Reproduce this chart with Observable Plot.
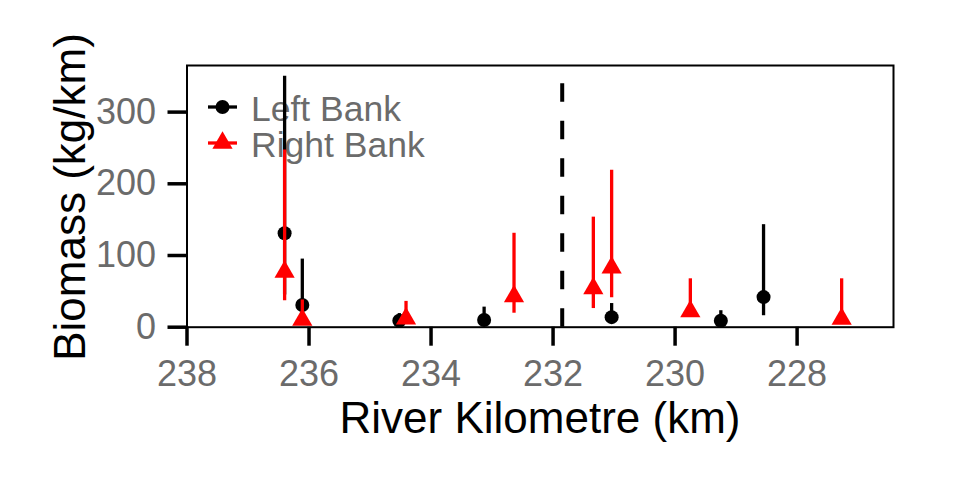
<!DOCTYPE html>
<html>
<head>
<meta charset="utf-8">
<script src="https://cdn.jsdelivr.net/npm/d3@7"></script>
<script src="https://cdn.jsdelivr.net/npm/@observablehq/plot@0.6"></script>
<style>
  html, body { margin: 0; padding: 0; background: white; }
  #wrap { position: relative; width: 960px; height: 480px; font-family: "Liberation Sans", Arial, sans-serif; }
  #wrap svg { position: absolute; left: 0; top: 0; }
  .title { position: absolute; color: black; font-size: 44px; white-space: nowrap; }
</style>
</head>
<body>
<div id="wrap"></div>
<script>
// ---- data ----
const leftKm   = [236.40, 236.11, 234.52, 233.13, 231.04, 229.25, 228.55];
const leftMean = [131, 31, 9, 10, 14, 9, 42];
const leftLo   = [45, 8, 3, 3, 5, 2, 16];
const leftHi   = [350, 95, 19, 28, 33, 23, 143];

const rightKm   = [236.40, 236.11, 234.41, 232.64, 231.34, 231.04, 229.75, 227.27];
const rightMean = [77, 10, 12, 43, 54, 83, 22, 11.5];
const rightLo   = [37, 3, 4, 19.5, 26, 41, 14, 5];
const rightHi   = [247, 38, 36, 131, 153.5, 219, 67.5, 67.5];

const dividerKm = [231.85];
const xTicks = [238, 236, 234, 232, 230, 228];
const yTicks = [0, 100, 200, 300];
const xDomain = [238, 226.42];
const yDomain = [0, 365];
const seriesNames = ["Left Bank", "Right Bank"];
const xTitle = "River Kilometre (km)";
const yTitle = "Biomass (kg/km)";

const left = leftKm.map((k, i) => ({km: k, mean: leftMean[i], lo: leftLo[i], hi: leftHi[i]}));
const right = rightKm.map((k, i) => ({km: k, mean: rightMean[i], lo: rightLo[i], hi: rightHi[i]}));

const wrap = document.getElementById("wrap");
const FONT = "Liberation Sans, Arial, sans-serif";
const GREY = "#6b6b6b";

// ---- legend (drawn beneath the data) ----
const leg = d3.create("svg").attr("width", 960).attr("height", 480)
  .attr("font-family", FONT);
const legItems = [
  {name: seriesNames[0], color: "black", sym: d3.symbolCircle, size: Math.PI * 7 * 7, y: 107},
  {name: seriesNames[1], color: "red", sym: d3.symbolTriangle, size: Math.PI * 7.5 * 7.5, y: 143}
];
for (const it of legItems) {
  leg.append("line").attr("x1", 208).attr("x2", 237).attr("y1", it.y).attr("y2", it.y)
    .attr("stroke", it.color).attr("stroke-width", 3.3);
  leg.append("path").attr("d", d3.symbol(it.sym, it.size)())
    .attr("transform", `translate(222.5,${it.y})`).attr("fill", it.color);
  leg.append("text").attr("x", 251).attr("y", it.y + 14).attr("font-size", 35.5)
    .attr("fill", GREY).text(it.name);
}
wrap.appendChild(leg.node());

// ---- chart ----
const chart = Plot.plot({
  width: 960,
  height: 480,
  marginLeft: 186.5,
  marginRight: 67,
  marginTop: 65,
  marginBottom: 153.3,
  style: {background: "transparent", fontFamily: FONT},
  x: {type: "linear", domain: xDomain},
  y: {type: "linear", domain: yDomain},
  marks: [
    Plot.axisX({ticks: xTicks, tickSize: 19, tickPadding: 14, strokeWidth: 3.5, stroke: "black",
      fill: GREY, fontSize: 36, label: null, tickFormat: d => String(d)}),
    Plot.axisY({ticks: yTicks, tickSize: 19, tickPadding: 12, strokeWidth: 3.5, stroke: "black",
      fill: GREY, fontSize: 36, label: null, tickFormat: d => String(d)}),
    Plot.ruleX(dividerKm, {x: d => d, y1: d => yDomain[0], y2: d => yDomain[1],
      stroke: "black", strokeWidth: 4, strokeDasharray: "18.5,19"}),
    Plot.ruleX(left, {x: "km", y1: "lo", y2: "hi", stroke: "black", strokeWidth: 3.3}),
    Plot.dot(left, {x: "km", y: "mean", r: 7, fill: "black", stroke: null}),
    Plot.ruleX(right, {x: "km", y1: "lo", y2: "hi", stroke: "red", strokeWidth: 3.3}),
    Plot.dot(right, {x: "km", y: "mean", symbol: "triangle", r: 7.5, fill: "red", stroke: null}),
    Plot.frame({stroke: "black", strokeWidth: 2})
  ]
});
wrap.appendChild(chart);

// ---- axis titles ----
const xt = document.createElement("div");
xt.className = "title";
xt.textContent = xTitle;
xt.style.left = "540px";
xt.style.top = "418px";
xt.style.transform = "translate(-50%, -50%)";
wrap.appendChild(xt);

const yt = document.createElement("div");
yt.className = "title";
yt.textContent = yTitle;
yt.style.left = "70px";
yt.style.top = "197px";
yt.style.transform = "translate(-50%, -50%) rotate(-90deg)";
wrap.appendChild(yt);
</script>
</body>
</html>
